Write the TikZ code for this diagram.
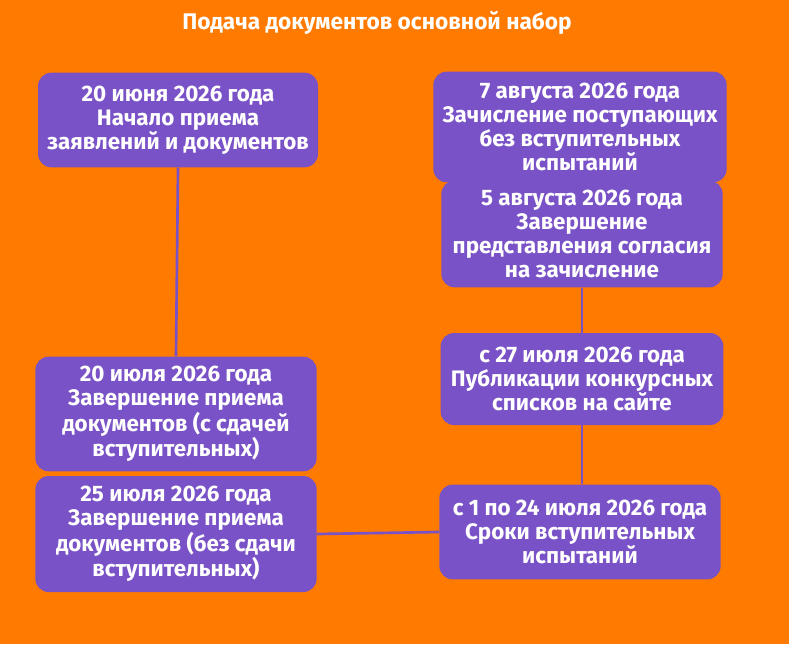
\documentclass[tikz,border=0pt]{standalone}
\usepackage{fontspec}
\setmainfont{Fira Sans}
\definecolor{bg}{HTML}{FF7A00}
\definecolor{box}{HTML}{7A52C7}
\definecolor{ln}{HTML}{7A52C7}
\begin{document}
\begin{tikzpicture}[x=0.75pt,y=-0.75pt,
  b/.style={fill=box,rounded corners=10pt,text=white,align=center,inner sep=0pt,
    font=\fontsize{16.8}{18}\selectfont\bfseries},
  c/.style={draw=ln,line width=2pt}]
\fill[bg] (0,0) rectangle (789,644);
\useasboundingbox (0,0) rectangle (789,644);
\node[text=white,font=\fontsize{17}{19}\selectfont\bfseries] (t) at (377,23) {Подача документов основной набор};
\node[b,minimum width=210pt,minimum height=71pt] (a) at (178,120) {20 июня 2026 года\\Начало приема\\заявлений и документов};
\node[b,minimum width=220pt,minimum height=83pt] (bb) at (580,127) {7 августа 2026 года\\Зачисление поступающих\\без вступительных\\испытаний};
\node[b,minimum width=211pt,minimum height=80pt] (cc) at (582,234) {5 августа 2026 года\\Завершение\\представления согласия\\на зачисление};
\node[b,minimum width=212pt,minimum height=69pt] (d) at (582,379) {с 27 июля 2026 года\\Публикации конкурсных\\списков на сайте};
\node[b,minimum width=211pt,minimum height=86pt] (e) at (176,414) {20 июля 2026 года\\Завершение приема\\документов (с сдачей\\вступительных)};
\node[b,minimum width=211pt,minimum height=87pt] (f) at (176,534) {25 июля 2026 года\\Завершение приема\\документов (без сдачи\\вступительных)};
\node[b,minimum width=211pt,minimum height=71pt] (g) at (580,532) {с 1 по 24 июля 2026 года\\Сроки вступительных\\испытаний};
\draw[c] (a.south) -- (e.north);
\draw[c] (f.east) -- (g.west);
\draw[c] (g.north -| d.south) -- (d.south);
\draw[c] (d.north) -- (cc.south);
\end{tikzpicture}
\end{document}
